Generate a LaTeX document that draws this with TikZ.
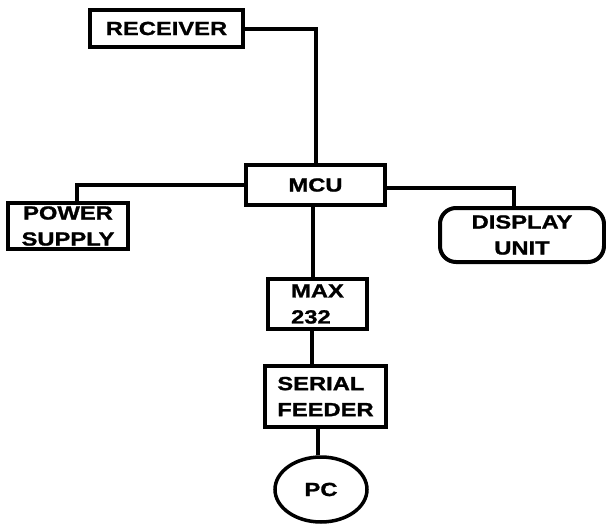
\documentclass[tikz,border=0pt]{standalone}
\usepackage{fontspec}
\setmainfont[FakeStretch=1.25,FakeBold=1.2]{Liberation Sans}
\usetikzlibrary{shapes.geometric}
\begin{document}
\begin{tikzpicture}[x=1pt,y=-1pt,
  every node/.style={font=\fontsize{19}{26}\selectfont\bfseries, inner sep=0pt},
  blk/.style={draw, line width=4pt, rectangle},
  rblk/.style={draw, line width=4pt, rectangle, rounded corners=16pt},
  oval/.style={draw, line width=3.5pt, ellipse},
  wire/.style={line width=4pt}]
\useasboundingbox (0,0) rectangle (606,525);
\node[blk, minimum width=153, minimum height=37] (rec) at (166.5,28.5) {RECEIVER};
\node[blk, minimum width=139, minimum height=40] (mcu) at (315.5,185) {MCU};
\node[blk, minimum width=120, minimum height=46, align=center] (pow) at (68,226) {POWER\\SUPPLY};
\node[rblk, minimum width=164, minimum height=54, align=center] (disp) at (522,235) {DISPLAY\\UNIT};
\node[blk, minimum width=99, minimum height=50, align=left] (max) at (317.5,304) {MAX\\232};
\node[blk, minimum width=121, minimum height=61, align=left] (ser) at (325.5,396.5) {SERIAL\\FEEDER};
\node[oval, minimum width=92, minimum height=65] (pc) at (321,489.5) {PC};
\draw[wire] (rec.east) -| (mcu.north);
\draw[wire] (mcu.west) -| ([xshift=9pt]pow.north);
\draw[wire] ([yshift=-3pt]mcu.east) -| ([xshift=-8pt]disp.north);
\draw[wire] ([xshift=-4.5pt]max.north |- mcu.south) -- ([xshift=-4.5pt]max.north);
\draw[wire] ([xshift=-5.5pt]max.south) -- ([xshift=-5.5pt]max.south |- ser.north);
\draw[wire] ([xshift=-3pt]pc.north |- ser.south) -- ([xshift=-3pt]pc.north);
\end{tikzpicture}
\end{document}
